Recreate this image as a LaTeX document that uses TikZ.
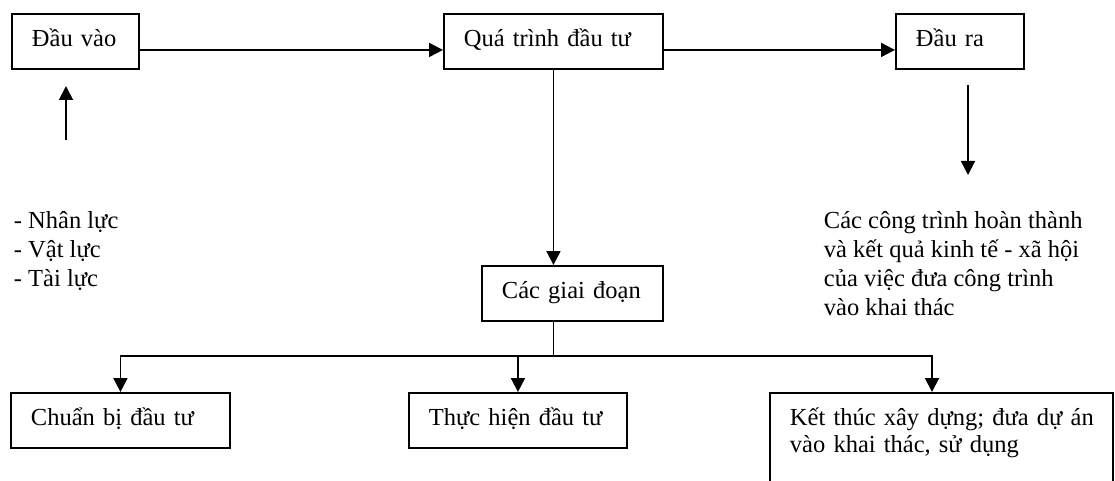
\documentclass[tikz,border=0pt]{standalone}
\usepackage{fontspec}
\setmainfont{Liberation Serif}
\usetikzlibrary{arrows.meta}
\begin{document}
\begin{tikzpicture}[x=1pt,y=-1pt,
  line width=1.9pt,
  every node/.style={font=\fontsize{24.5}{27}\selectfont},
  box/.style={draw, rectangle, anchor=north west, align=left,
    inner xsep=20pt, inner ysep=0pt, text height=33pt, text depth=22pt},
  freetext/.style={anchor=base west, align=left, inner sep=0pt},
  link/.style={-{Triangle[length=14pt,width=14pt]}}]
\path[clip] (0,0) rectangle (1115,481);

% top row
\node[box, text width=87pt]  (in)   at (11,13)  {Đầu vào};
\node[box, text width=179pt] (proc) at (443,13) {Quá trình đầu tư};
\node[box, text width=88pt]  (out)  at (895,13) {Đầu ra};

% stages
\node[box, text width=141pt] (stages) at (481,265) {Các giai đoạn};
\node[box, text width=179pt] (prep)   at (10,392)  {Chuẩn bị đầu tư};
\node[box, text width=178pt] (impl)   at (408,392) {Thực hiện đầu tư};
\node[box, text width=303pt, text depth=100pt] (end) at (769,392)
  {\mbox{Kết thúc xây dựng; đưa dự án}\\\mbox{vào khai thác, sử dụng}};

% inputs and outputs (anchored at the baseline of the last line)
\node[freetext, font=\fontsize{24.5}{29}\selectfont] (res) at (13,286)
  {- Nhân lực\\- Vật lực\\- Tài lực};
\node[freetext, font=\fontsize{24.5}{28.7}\selectfont] (result) at (823,315)
  {Các công trình hoàn thành\\và kết quả kinh tế - xã hội\\của việc đưa công trình\\vào khai thác};

% main flow
\draw[link] ([yshift=-8.5pt]in.east) -- ([yshift=-8.5pt]proc.west);
\draw[link] ([yshift=-8.5pt]proc.east) -- ([yshift=-8.5pt]out.west);
\coordinate (upFoot) at (66,140);
\coordinate (upTip)  at (66,86);
\draw[link] (upFoot) -- (upTip);
\coordinate (dnTop) at (968,85);
\coordinate (dnTip) at (968,175);
\draw[link] (dnTop) -- (dnTip);
\draw[link] (proc.south) -- (proc.south |- stages.north);

% branching bus
\coordinate (bus)  at (0,356);
\coordinate (busR) at (932,356);
\draw (proc.south |- stages.south) -- (proc.south |- bus);
\draw[link] (busR) -| (prep.north);
\draw[link] (prep.north |- bus) -| (busR |- end.north);
\draw[link] (impl.north |- bus) -- (impl.north);
\end{tikzpicture}
\end{document}
